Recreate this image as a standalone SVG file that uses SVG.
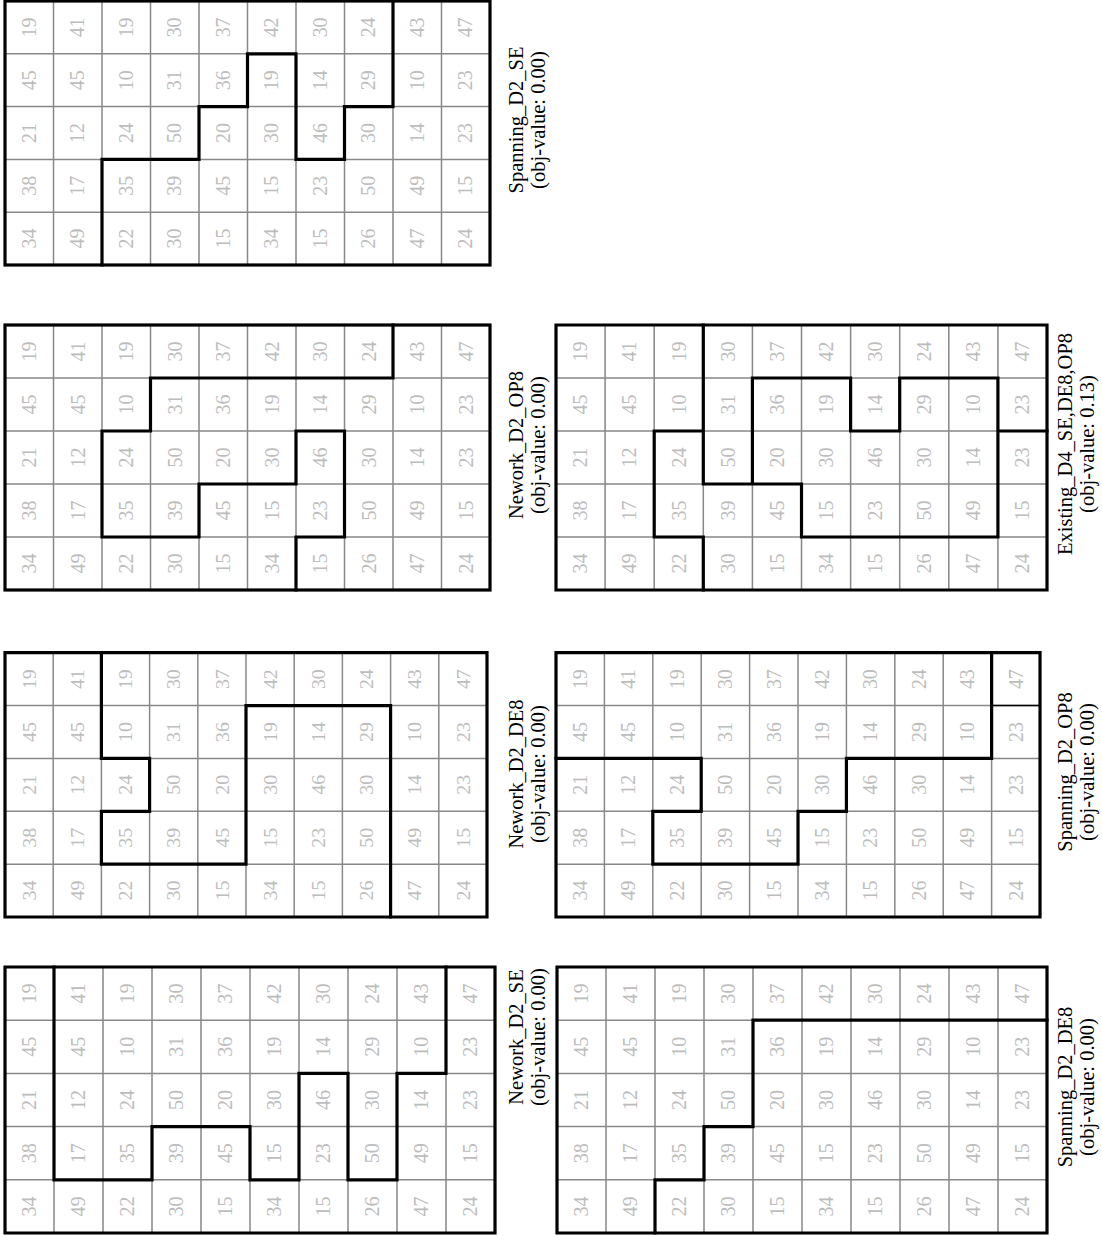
<svg xmlns="http://www.w3.org/2000/svg" width="1102" height="1236" viewBox="0 0 1102 1236">
<style>
.thin{fill:none;stroke:#888;stroke-width:1.5}
.thick{fill:none;stroke:#000;stroke-width:3.2;stroke-linecap:square;stroke-linejoin:miter}
.thinb{fill:none;stroke:#000;stroke-width:1.6}
.border{fill:none;stroke:#000;stroke-width:3.2}
.n text{font-family:"Liberation Serif","Times New Roman",serif;font-size:20px;fill:#bdbdbd;text-anchor:middle}
.lbl{font-family:"Liberation Serif","Times New Roman",serif;font-size:20.5px;fill:#000;text-anchor:middle}
</style>
<defs>
<path id="gl" d="M48.5,0V265M97,0V265M145.5,0V265M194,0V265M242.5,0V265M291,0V265M339.5,0V265M388,0V265M436.5,0V265M0,53H485M0,106H485M0,159H485M0,212H485"/>
</defs>
<rect width="1102" height="1236" fill="#fff"/>

<g id="grid-spanning-d2-se">
<g transform="translate(5,1) scale(1,0.9962)">
<use href="#gl" class="thin" vector-effect="non-scaling-stroke"/>
<g class="n" transform="translate(0,265) rotate(-90)">
<text x="238.5" y="31">19</text><text x="238.5" y="79.5">41</text><text x="238.5" y="128">19</text><text x="238.5" y="176.5">30</text><text x="238.5" y="225">37</text><text x="238.5" y="273.5">42</text><text x="238.5" y="322">30</text><text x="238.5" y="370.5">24</text><text x="238.5" y="419">43</text><text x="238.5" y="467.5">47</text>
<text x="185.5" y="31">45</text><text x="185.5" y="79.5">45</text><text x="185.5" y="128">10</text><text x="185.5" y="176.5">31</text><text x="185.5" y="225">36</text><text x="185.5" y="273.5">19</text><text x="185.5" y="322">14</text><text x="185.5" y="370.5">29</text><text x="185.5" y="419">10</text><text x="185.5" y="467.5">23</text>
<text x="132.5" y="31">21</text><text x="132.5" y="79.5">12</text><text x="132.5" y="128">24</text><text x="132.5" y="176.5">50</text><text x="132.5" y="225">20</text><text x="132.5" y="273.5">30</text><text x="132.5" y="322">46</text><text x="132.5" y="370.5">30</text><text x="132.5" y="419">14</text><text x="132.5" y="467.5">23</text>
<text x="79.5" y="31">38</text><text x="79.5" y="79.5">17</text><text x="79.5" y="128">35</text><text x="79.5" y="176.5">39</text><text x="79.5" y="225">45</text><text x="79.5" y="273.5">15</text><text x="79.5" y="322">23</text><text x="79.5" y="370.5">50</text><text x="79.5" y="419">49</text><text x="79.5" y="467.5">15</text>
<text x="26.5" y="31">34</text><text x="26.5" y="79.5">49</text><text x="26.5" y="128">22</text><text x="26.5" y="176.5">30</text><text x="26.5" y="225">15</text><text x="26.5" y="273.5">34</text><text x="26.5" y="322">15</text><text x="26.5" y="370.5">26</text><text x="26.5" y="419">47</text><text x="26.5" y="467.5">24</text>
</g>
<path class="thick" d="M97,265V159H194V106H242.5V53H291V159H339.5V106H388V0"/>
<rect class="border" x="0" y="0" width="485" height="265"/>
</g>
<text class="lbl" transform="translate(523,120) rotate(-90)"><tspan x="0" y="0">Spanning_D2_SE</tspan><tspan x="0" y="22">(obj-value: 0.00)</tspan></text>
</g>

<g id="grid-nework-d2-op8">
<g transform="translate(5,325)">
<use href="#gl" class="thin"/>
<g class="n" transform="translate(0,265) rotate(-90)">
<text x="238.5" y="31">19</text><text x="238.5" y="79.5">41</text><text x="238.5" y="128">19</text><text x="238.5" y="176.5">30</text><text x="238.5" y="225">37</text><text x="238.5" y="273.5">42</text><text x="238.5" y="322">30</text><text x="238.5" y="370.5">24</text><text x="238.5" y="419">43</text><text x="238.5" y="467.5">47</text>
<text x="185.5" y="31">45</text><text x="185.5" y="79.5">45</text><text x="185.5" y="128">10</text><text x="185.5" y="176.5">31</text><text x="185.5" y="225">36</text><text x="185.5" y="273.5">19</text><text x="185.5" y="322">14</text><text x="185.5" y="370.5">29</text><text x="185.5" y="419">10</text><text x="185.5" y="467.5">23</text>
<text x="132.5" y="31">21</text><text x="132.5" y="79.5">12</text><text x="132.5" y="128">24</text><text x="132.5" y="176.5">50</text><text x="132.5" y="225">20</text><text x="132.5" y="273.5">30</text><text x="132.5" y="322">46</text><text x="132.5" y="370.5">30</text><text x="132.5" y="419">14</text><text x="132.5" y="467.5">23</text>
<text x="79.5" y="31">38</text><text x="79.5" y="79.5">17</text><text x="79.5" y="128">35</text><text x="79.5" y="176.5">39</text><text x="79.5" y="225">45</text><text x="79.5" y="273.5">15</text><text x="79.5" y="322">23</text><text x="79.5" y="370.5">50</text><text x="79.5" y="419">49</text><text x="79.5" y="467.5">15</text>
<text x="26.5" y="31">34</text><text x="26.5" y="79.5">49</text><text x="26.5" y="128">22</text><text x="26.5" y="176.5">30</text><text x="26.5" y="225">15</text><text x="26.5" y="273.5">34</text><text x="26.5" y="322">15</text><text x="26.5" y="370.5">26</text><text x="26.5" y="419">47</text><text x="26.5" y="467.5">24</text>
</g>
<path class="thick" d="M388,0V53H145.5V106H97V212H194V159H291V106H339.5V212H291V265"/>
<rect class="border" x="0" y="0" width="485" height="265"/>
</g>
<text class="lbl" transform="translate(523,445) rotate(-90)"><tspan x="0" y="0">Nework_D2_OP8</tspan><tspan x="0" y="22">(obj-value: 0.00)</tspan></text>
</g>

<g id="grid-existing-d4">
<g transform="translate(556,325) scale(1.0124,1)">
<use href="#gl" class="thin" vector-effect="non-scaling-stroke"/>
<g class="n" transform="translate(0,265) rotate(-90)">
<text x="238.5" y="31">19</text><text x="238.5" y="79.5">41</text><text x="238.5" y="128">19</text><text x="238.5" y="176.5">30</text><text x="238.5" y="225">37</text><text x="238.5" y="273.5">42</text><text x="238.5" y="322">30</text><text x="238.5" y="370.5">24</text><text x="238.5" y="419">43</text><text x="238.5" y="467.5">47</text>
<text x="185.5" y="31">45</text><text x="185.5" y="79.5">45</text><text x="185.5" y="128">10</text><text x="185.5" y="176.5">31</text><text x="185.5" y="225">36</text><text x="185.5" y="273.5">19</text><text x="185.5" y="322">14</text><text x="185.5" y="370.5">29</text><text x="185.5" y="419">10</text><text x="185.5" y="467.5">23</text>
<text x="132.5" y="31">21</text><text x="132.5" y="79.5">12</text><text x="132.5" y="128">24</text><text x="132.5" y="176.5">50</text><text x="132.5" y="225">20</text><text x="132.5" y="273.5">30</text><text x="132.5" y="322">46</text><text x="132.5" y="370.5">30</text><text x="132.5" y="419">14</text><text x="132.5" y="467.5">23</text>
<text x="79.5" y="31">38</text><text x="79.5" y="79.5">17</text><text x="79.5" y="128">35</text><text x="79.5" y="176.5">39</text><text x="79.5" y="225">45</text><text x="79.5" y="273.5">15</text><text x="79.5" y="322">23</text><text x="79.5" y="370.5">50</text><text x="79.5" y="419">49</text><text x="79.5" y="467.5">15</text>
<text x="26.5" y="31">34</text><text x="26.5" y="79.5">49</text><text x="26.5" y="128">22</text><text x="26.5" y="176.5">30</text><text x="26.5" y="225">15</text><text x="26.5" y="273.5">34</text><text x="26.5" y="322">15</text><text x="26.5" y="370.5">26</text><text x="26.5" y="419">47</text><text x="26.5" y="467.5">24</text>
</g>
<path class="thick" vector-effect="non-scaling-stroke" d="M145.5,0V159H242.5V212H436.5V53H339.5V106H291V53H194V159M145.5,106H97V212H145.5V265M436.5,106H485"/>
<rect class="border" vector-effect="non-scaling-stroke" x="0" y="0" width="485" height="265"/>
</g>
<text class="lbl" transform="translate(1072,444) rotate(-90)"><tspan x="0" y="0">Existing_D4_SE,DE8,OP8</tspan><tspan x="0" y="22">(obj-value: 0.13)</tspan></text>
</g>

<g id="grid-nework-d2-de8">
<g transform="translate(5,652.7) scale(0.9938,0.9974)">
<use href="#gl" class="thin" vector-effect="non-scaling-stroke"/>
<g class="n" transform="translate(0,265) rotate(-90)">
<text x="238.5" y="31">19</text><text x="238.5" y="79.5">41</text><text x="238.5" y="128">19</text><text x="238.5" y="176.5">30</text><text x="238.5" y="225">37</text><text x="238.5" y="273.5">42</text><text x="238.5" y="322">30</text><text x="238.5" y="370.5">24</text><text x="238.5" y="419">43</text><text x="238.5" y="467.5">47</text>
<text x="185.5" y="31">45</text><text x="185.5" y="79.5">45</text><text x="185.5" y="128">10</text><text x="185.5" y="176.5">31</text><text x="185.5" y="225">36</text><text x="185.5" y="273.5">19</text><text x="185.5" y="322">14</text><text x="185.5" y="370.5">29</text><text x="185.5" y="419">10</text><text x="185.5" y="467.5">23</text>
<text x="132.5" y="31">21</text><text x="132.5" y="79.5">12</text><text x="132.5" y="128">24</text><text x="132.5" y="176.5">50</text><text x="132.5" y="225">20</text><text x="132.5" y="273.5">30</text><text x="132.5" y="322">46</text><text x="132.5" y="370.5">30</text><text x="132.5" y="419">14</text><text x="132.5" y="467.5">23</text>
<text x="79.5" y="31">38</text><text x="79.5" y="79.5">17</text><text x="79.5" y="128">35</text><text x="79.5" y="176.5">39</text><text x="79.5" y="225">45</text><text x="79.5" y="273.5">15</text><text x="79.5" y="322">23</text><text x="79.5" y="370.5">50</text><text x="79.5" y="419">49</text><text x="79.5" y="467.5">15</text>
<text x="26.5" y="31">34</text><text x="26.5" y="79.5">49</text><text x="26.5" y="128">22</text><text x="26.5" y="176.5">30</text><text x="26.5" y="225">15</text><text x="26.5" y="273.5">34</text><text x="26.5" y="322">15</text><text x="26.5" y="370.5">26</text><text x="26.5" y="419">47</text><text x="26.5" y="467.5">24</text>
</g>
<path class="thick" vector-effect="non-scaling-stroke" d="M97,0V106H145.5V159H97V212H242.5V53H388V265"/>
<rect class="border" vector-effect="non-scaling-stroke" x="0" y="0" width="485" height="265"/>
</g>
<text class="lbl" transform="translate(523,774) rotate(-90)"><tspan x="0" y="0">Nework_D2_DE8</tspan><tspan x="0" y="22">(obj-value: 0.00)</tspan></text>
</g>

<g id="grid-spanning-d2-op8">
<g transform="translate(556,652.7) scale(0.998,0.9974)">
<use href="#gl" class="thin" vector-effect="non-scaling-stroke"/>
<g class="n" transform="translate(0,265) rotate(-90)">
<text x="238.5" y="31">19</text><text x="238.5" y="79.5">41</text><text x="238.5" y="128">19</text><text x="238.5" y="176.5">30</text><text x="238.5" y="225">37</text><text x="238.5" y="273.5">42</text><text x="238.5" y="322">30</text><text x="238.5" y="370.5">24</text><text x="238.5" y="419">43</text><text x="238.5" y="467.5">47</text>
<text x="185.5" y="31">45</text><text x="185.5" y="79.5">45</text><text x="185.5" y="128">10</text><text x="185.5" y="176.5">31</text><text x="185.5" y="225">36</text><text x="185.5" y="273.5">19</text><text x="185.5" y="322">14</text><text x="185.5" y="370.5">29</text><text x="185.5" y="419">10</text><text x="185.5" y="467.5">23</text>
<text x="132.5" y="31">21</text><text x="132.5" y="79.5">12</text><text x="132.5" y="128">24</text><text x="132.5" y="176.5">50</text><text x="132.5" y="225">20</text><text x="132.5" y="273.5">30</text><text x="132.5" y="322">46</text><text x="132.5" y="370.5">30</text><text x="132.5" y="419">14</text><text x="132.5" y="467.5">23</text>
<text x="79.5" y="31">38</text><text x="79.5" y="79.5">17</text><text x="79.5" y="128">35</text><text x="79.5" y="176.5">39</text><text x="79.5" y="225">45</text><text x="79.5" y="273.5">15</text><text x="79.5" y="322">23</text><text x="79.5" y="370.5">50</text><text x="79.5" y="419">49</text><text x="79.5" y="467.5">15</text>
<text x="26.5" y="31">34</text><text x="26.5" y="79.5">49</text><text x="26.5" y="128">22</text><text x="26.5" y="176.5">30</text><text x="26.5" y="225">15</text><text x="26.5" y="273.5">34</text><text x="26.5" y="322">15</text><text x="26.5" y="370.5">26</text><text x="26.5" y="419">47</text><text x="26.5" y="467.5">24</text>
</g>
<path class="thinb" vector-effect="non-scaling-stroke" d="M436.5,53H485"/>
<path class="thick" vector-effect="non-scaling-stroke" d="M0,106H145.5V159H97V212H242.5V159H291V106H436.5V0"/>
<rect class="border" vector-effect="non-scaling-stroke" x="0" y="0" width="485" height="265"/>
</g>
<text class="lbl" transform="translate(1072,772) rotate(-90)"><tspan x="0" y="0">Spanning_D2_OP8</tspan><tspan x="0" y="22">(obj-value: 0.00)</tspan></text>
</g>

<g id="grid-nework-d2-se">
<g transform="translate(5,967) scale(1.0103,1.0038)">
<use href="#gl" class="thin" vector-effect="non-scaling-stroke"/>
<g class="n" transform="translate(0,265) rotate(-90)">
<text x="238.5" y="31">19</text><text x="238.5" y="79.5">41</text><text x="238.5" y="128">19</text><text x="238.5" y="176.5">30</text><text x="238.5" y="225">37</text><text x="238.5" y="273.5">42</text><text x="238.5" y="322">30</text><text x="238.5" y="370.5">24</text><text x="238.5" y="419">43</text><text x="238.5" y="467.5">47</text>
<text x="185.5" y="31">45</text><text x="185.5" y="79.5">45</text><text x="185.5" y="128">10</text><text x="185.5" y="176.5">31</text><text x="185.5" y="225">36</text><text x="185.5" y="273.5">19</text><text x="185.5" y="322">14</text><text x="185.5" y="370.5">29</text><text x="185.5" y="419">10</text><text x="185.5" y="467.5">23</text>
<text x="132.5" y="31">21</text><text x="132.5" y="79.5">12</text><text x="132.5" y="128">24</text><text x="132.5" y="176.5">50</text><text x="132.5" y="225">20</text><text x="132.5" y="273.5">30</text><text x="132.5" y="322">46</text><text x="132.5" y="370.5">30</text><text x="132.5" y="419">14</text><text x="132.5" y="467.5">23</text>
<text x="79.5" y="31">38</text><text x="79.5" y="79.5">17</text><text x="79.5" y="128">35</text><text x="79.5" y="176.5">39</text><text x="79.5" y="225">45</text><text x="79.5" y="273.5">15</text><text x="79.5" y="322">23</text><text x="79.5" y="370.5">50</text><text x="79.5" y="419">49</text><text x="79.5" y="467.5">15</text>
<text x="26.5" y="31">34</text><text x="26.5" y="79.5">49</text><text x="26.5" y="128">22</text><text x="26.5" y="176.5">30</text><text x="26.5" y="225">15</text><text x="26.5" y="273.5">34</text><text x="26.5" y="322">15</text><text x="26.5" y="370.5">26</text><text x="26.5" y="419">47</text><text x="26.5" y="467.5">24</text>
</g>
<path class="thick" vector-effect="non-scaling-stroke" d="M48.5,0V212H145.5V159H242.5V212H291V106H339.5V212H388V106H436.5V0"/>
<rect class="border" vector-effect="non-scaling-stroke" x="0" y="0" width="485" height="265"/>
</g>
<text class="lbl" transform="translate(523,1037) rotate(-90)"><tspan x="0" y="0">Nework_D2_SE</tspan><tspan x="0" y="22">(obj-value: 0.00)</tspan></text>
</g>

<g id="grid-spanning-d2-de8">
<g transform="translate(557,967) scale(1.0103,1.0038)">
<use href="#gl" class="thin" vector-effect="non-scaling-stroke"/>
<g class="n" transform="translate(0,265) rotate(-90)">
<text x="238.5" y="31">19</text><text x="238.5" y="79.5">41</text><text x="238.5" y="128">19</text><text x="238.5" y="176.5">30</text><text x="238.5" y="225">37</text><text x="238.5" y="273.5">42</text><text x="238.5" y="322">30</text><text x="238.5" y="370.5">24</text><text x="238.5" y="419">43</text><text x="238.5" y="467.5">47</text>
<text x="185.5" y="31">45</text><text x="185.5" y="79.5">45</text><text x="185.5" y="128">10</text><text x="185.5" y="176.5">31</text><text x="185.5" y="225">36</text><text x="185.5" y="273.5">19</text><text x="185.5" y="322">14</text><text x="185.5" y="370.5">29</text><text x="185.5" y="419">10</text><text x="185.5" y="467.5">23</text>
<text x="132.5" y="31">21</text><text x="132.5" y="79.5">12</text><text x="132.5" y="128">24</text><text x="132.5" y="176.5">50</text><text x="132.5" y="225">20</text><text x="132.5" y="273.5">30</text><text x="132.5" y="322">46</text><text x="132.5" y="370.5">30</text><text x="132.5" y="419">14</text><text x="132.5" y="467.5">23</text>
<text x="79.5" y="31">38</text><text x="79.5" y="79.5">17</text><text x="79.5" y="128">35</text><text x="79.5" y="176.5">39</text><text x="79.5" y="225">45</text><text x="79.5" y="273.5">15</text><text x="79.5" y="322">23</text><text x="79.5" y="370.5">50</text><text x="79.5" y="419">49</text><text x="79.5" y="467.5">15</text>
<text x="26.5" y="31">34</text><text x="26.5" y="79.5">49</text><text x="26.5" y="128">22</text><text x="26.5" y="176.5">30</text><text x="26.5" y="225">15</text><text x="26.5" y="273.5">34</text><text x="26.5" y="322">15</text><text x="26.5" y="370.5">26</text><text x="26.5" y="419">47</text><text x="26.5" y="467.5">24</text>
</g>
<path class="thick" vector-effect="non-scaling-stroke" d="M485,53H194V159H145.5V212H97V265"/>
<rect class="border" vector-effect="non-scaling-stroke" x="0" y="0" width="485" height="265"/>
</g>
<text class="lbl" transform="translate(1072,1087) rotate(-90)"><tspan x="0" y="0">Spanning_D2_DE8</tspan><tspan x="0" y="22">(obj-value: 0.00)</tspan></text>
</g>

<g id="connectors"></g>
</svg>
